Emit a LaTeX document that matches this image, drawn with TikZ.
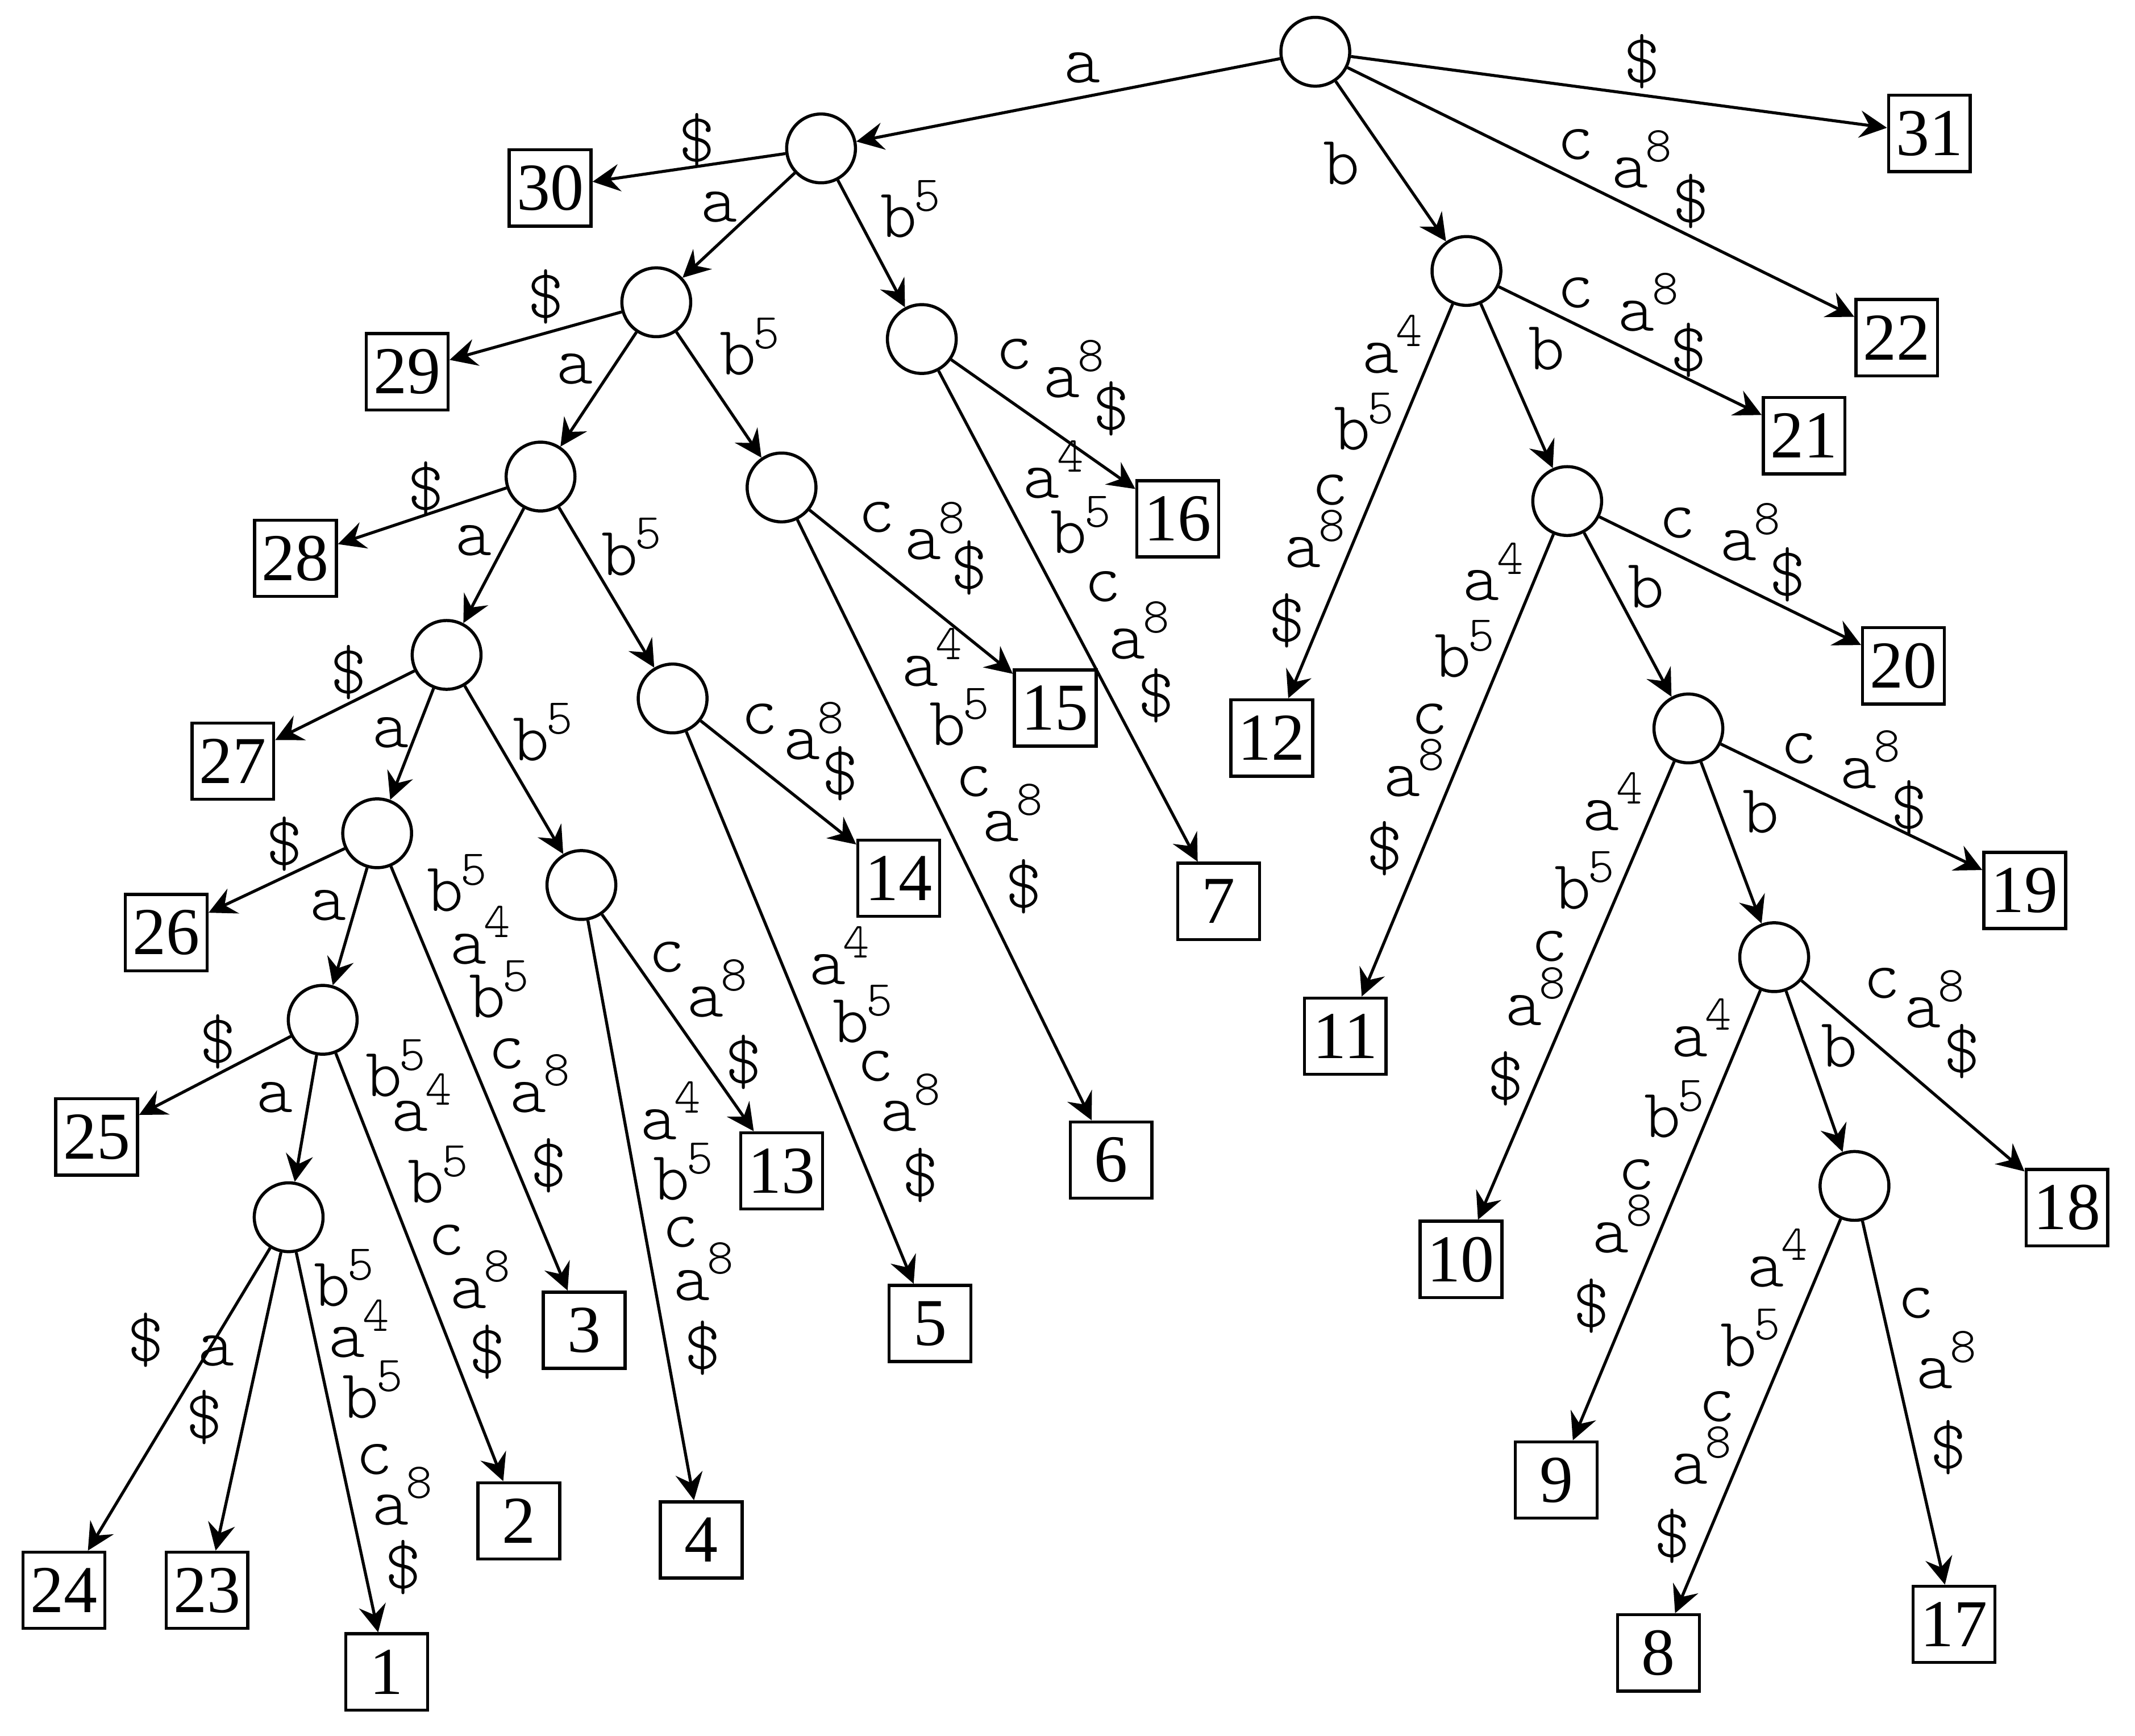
\documentclass[tikz,border=0pt]{standalone}
\usepackage{fontspec}
\setmainfont{Liberation Serif}
\usetikzlibrary{arrows.meta}
\newcommand{\lblfont}{\fontsize{14.5}{14.5}\fontseries{l}\ttfamily}
\newcommand{\supx}[1]{\rlap{\kern-0.04em\smash{\raisebox{0.38em}{\fontsize{10.5}{10.5}\selectfont #1}}}}
\newcommand{\Ap}[1]{a\supx{#1}}
\newcommand{\Bp}[1]{b\supx{#1}}
\begin{document}
\begin{tikzpicture}[x=0.01cm,y=-0.01cm,
  inner/.style={circle,draw,line width=0.65pt,minimum size=0.505cm,inner sep=0pt},
  leaf/.style={rectangle,draw,line width=0.65pt,minimum width=0.6cm,minimum height=0.56cm,inner sep=0pt,font=\fontsize{14}{14}\selectfont},
  lbl/.style={inner sep=0pt,font=\lblfont},
  edge/.style={line width=0.62pt,-{Stealth[length=0.2cm,width=0.2cm,inset=0.07cm]}}]
\useasboundingbox (0,0) rectangle (1568,1275);
% internal nodes
\node[inner] (R) at (966,38) {};
\node[inner] (A1) at (603,109) {};
\node[inner] (A2) at (482,222) {};
\node[inner] (A3) at (397,350) {};
\node[inner] (A4) at (328,481) {};
\node[inner] (A5) at (277,612) {};
\node[inner] (A6) at (237,749) {};
\node[inner] (A7) at (212,894) {};
\node[inner] (AB1) at (677,249) {};
\node[inner] (AB2) at (574,358) {};
\node[inner] (AB3) at (494,513) {};
\node[inner] (AB4) at (427,650) {};
\node[inner] (B1) at (1077,199) {};
\node[inner] (B2) at (1151,368) {};
\node[inner] (B3) at (1240,535) {};
\node[inner] (B4) at (1303,703) {};
\node[inner] (B5) at (1362,871) {};
% leaves
\node[leaf] (n1) at (284,1228) {1};
\node[leaf] (n2) at (381,1117) {2};
\node[leaf] (n3) at (429,977) {3};
\node[leaf] (n4) at (515,1131) {4};
\node[leaf] (n5) at (683,972) {5};
\node[leaf] (n6) at (816,852) {6};
\node[leaf] (n7) at (895,662) {7};
\node[leaf] (n8) at (1218,1214) {8};
\node[leaf] (n9) at (1143,1087) {9};
\node[leaf] (n10) at (1073,925) {10};
\node[leaf] (n11) at (988,761) {11};
\node[leaf] (n12) at (934,542) {12};
\node[leaf] (n13) at (574,860) {13};
\node[leaf] (n14) at (660,645) {14};
\node[leaf] (n15) at (775,520) {15};
\node[leaf] (n16) at (865,381) {16};
\node[leaf] (n17) at (1435,1193) {17};
\node[leaf] (n18) at (1518,887) {18};
\node[leaf] (n19) at (1487,654) {19};
\node[leaf] (n20) at (1398,489) {20};
\node[leaf] (n21) at (1325,320) {21};
\node[leaf] (n22) at (1393,248) {22};
\node[leaf] (n23) at (152,1168) {23};
\node[leaf] (n24) at (47,1168) {24};
\node[leaf] (n25) at (71,835) {25};
\node[leaf] (n26) at (122,685) {26};
\node[leaf] (n27) at (171,559) {27};
\node[leaf] (n28) at (217,410) {28};
\node[leaf] (n29) at (299,273) {29};
\node[leaf] (n30) at (404,138) {30};
\node[leaf] (n31) at (1417,98) {31};
% edges
\foreach \p/\q in {R/A1,R/n31,R/n22,R/B1,
  A1/n30,A1/A2,A1/AB1,AB1/n16,AB1/n7,
  A2/n29,A2/A3,A2/AB2,AB2/n15,AB2/n6,
  A3/n28,A3/A4,A3/AB3,AB3/n14,AB3/n5,
  A4/n27,A4/A5,A4/AB4,AB4/n13,AB4/n4,
  A5/n26,A5/A6,A5/n3,
  A6/n25,A6/A7,A6/n2,
  A7/n24,A7/n23,A7/n1,
  B1/n21,B1/B2,B1/n12,
  B2/n20,B2/B3,B2/n11,
  B3/n19,B3/B4,B3/n10,
  B4/n18,B4/B5,B4/n9,
  B5/n8,B5/n17}
  \draw[edge] (\p) -- (\q);
% edge labels
\foreach \x/\y/\t [count=\i] in {
  795/50/a, 1206/45/\$,
  1157/106/c, 1197/127/\Ap{8}, 1242/148/\$,
  985/120/b,
  512/103/\$, 528/152/a, 660/159/\Bp{5},
  745/260/c, 780/281/\Ap{8}, 816/300/\$,
  765/355/\Ap{4}, 785/391/\Bp{5}, 810/431/c, 828/473/\Ap{8}, 849/511/\$,
  401/218/\$, 422/271/a, 542/260/\Bp{5},
  644/380/c, 678/400/\Ap{8}, 712/417/\$,
  676/493/\Ap{4}, 696/532/\Bp{5}, 715/574/c, 735/607/\Ap{8}, 752/651/\$,
  313/359/\$, 348/397/a, 455/407/\Bp{5},
  558/528/c, 589/547/\Ap{8}, 617/568/\$,
  608/712/\Ap{4}, 625/750/\Bp{5}, 643/783/c, 660/820/\Ap{8}, 676/863/\$,
  256/494/\$, 287/538/a, 390/543/\Bp{5},
  490/703/c, 518/736/\Ap{8}, 546/780/\$,
  484/826/\Ap{4}, 493/866/\Bp{5}, 500/905/c, 508/944/\Ap{8}, 516/990/\$,
  209/620/\$, 241/665/a,
  327/654/\Bp{5}, 344/697/\Ap{4}, 358/732/\Bp{5}, 372/774/c, 388/806/\Ap{8}, 403/856/\$,
  160/765/\$, 202/806/a,
  282/790/\Bp{5}, 301/820/\Ap{4}, 313/868/\Bp{5}, 328/911/c, 344/950/\Ap{8}, 358/993/\$,
  107/984/\$, 159/992/a, 150/1041/\$,
  244/944/\Bp{5}, 255/986/\Ap{4}, 265/1026/\Bp{5}, 275/1072/c, 287/1109/\Ap{8}, 296/1151/\$,
  1157/215/c, 1202/232/\Ap{8}, 1240/257/\$,
  1136/256/b,
  1014/263/\Ap{4}, 993/315/\Bp{5}, 977/360/c, 957/406/\Ap{8}, 945/456/\$,
  1232/384/c, 1277/401/\Ap{8}, 1313/422/\$,
  1209/431/b,
  1088/430/\Ap{4}, 1067/482/\Bp{5}, 1050/528/c, 1030/574/\Ap{8}, 1017/623/\$,
  1321/550/c, 1365/568/\Ap{8}, 1402/593/\$,
  1293/596/b,
  1176/599/\Ap{4}, 1155/652/\Bp{5}, 1138/695/c, 1119/742/\Ap{8}, 1106/792/\$,
  1382/722/c, 1412/744/\Ap{8}, 1441/772/\$,
  1351/768/b,
  1241/765/\Ap{4}, 1221/820/\Bp{5}, 1202/863/c, 1183/909/\Ap{8}, 1169/959/\$,
  1297/934/\Ap{4}, 1277/988/\Bp{5}, 1261/1033/c, 1241/1079/\Ap{8}, 1228/1128/\$,
  1407/957/c, 1421/1009/\Ap{8}, 1431/1063/\$}
  \node[lbl] (L\i) at (\x,\y) {\t};
\end{tikzpicture}
\end{document}
